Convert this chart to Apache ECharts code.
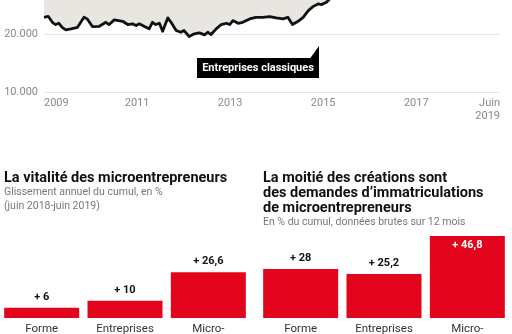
<!DOCTYPE html>
<html><head><meta charset="utf-8">
<script src="https://cdn.jsdelivr.net/npm/echarts@6/dist/echarts.min.js"></script>
<style>html,body{margin:0;padding:0;background:#fff}#c{width:512px;height:334px}</style>
</head><body><div id="c"></div>
<script>
// Line chart: Entreprises classiques (decimal years)
const dates = [2009.00,2009.09,2009.18,2009.25,2009.32,2009.39,2009.47,2009.58,2009.72,2009.86,2009.93,
  2010.04,2010.19,2010.33,2010.40,2010.51,2010.69,2010.80,2010.90,2010.98,
  2011.05,2011.16,2011.26,2011.33,2011.40,2011.48,2011.55,2011.66,2011.73,2011.84,2011.94,
  2012.01,2012.12,2012.23,2012.34,2012.45,2012.52,2012.59,2012.70,2012.81,2012.92,2012.99,
  2013.06,2013.17,2013.27,2013.42,2013.55,2013.70,2013.85,2013.99,
  2014.14,2014.24,2014.34,2014.46,2014.57,2014.68,2014.78,2014.89,2014.96,
  2015.07,2015.14,2015.25];
const classiques = [22850,23020,21990,21600,21820,21130,20690,20860,21130,22850,22570,
  21250,21300,21990,21600,22400,22160,21600,21720,21420,
  21720,21250,20860,21990,21600,21820,20450,22740,21990,20570,20280,
  20570,19540,20000,20170,19830,20280,19880,20860,21600,21820,21600,
  22280,21820,21990,22570,22850,22850,22970,22750,
  22570,22850,21600,22160,22850,24000,24680,25150,25030,
  25430,26000,26700];
const startYear = 2009;
const yMin = 10000, yMax = 30000, yStep = 10000;
const xMax = 9.8; // offset years shown up to "Juin 2019" label
const lastLabel = 'Juin\n2019';

// Bar charts
const barCats = ['Forme', 'Entreprises', 'Micro-'];
const vitalite = [6, 10, 26.6];
const creations = [28, 25.2, 46.8];

const FONT = 'Roboto';
const RED = '#e3051b';
const fmtThousands = v => String(v).replace(/\B(?=(\d{3})+(?!\d))/g, '.');
const fmtPct = v => '+ ' + String(v).replace('.', ',');

const chart = echarts.init(document.getElementById('c'), null, {renderer: 'canvas'});
chart.setOption({
  animation: false,
  textStyle: {fontFamily: FONT},
  grid: [
    {left: 44, right: 12, top: -24.3, bottom: 242, containLabel: false, outerBoundsMode: 'none'},
    {left: 0, width: 250, top: 232, bottom: 16, outerBoundsMode: 'none'},
    {left: 259, width: 250, top: 230.5, bottom: 16, outerBoundsMode: 'none'}
  ],
  xAxis: [
    {gridIndex: 0, type: 'value', min: 0, max: xMax, interval: 2,
      axisLine: {show: false}, axisTick: {show: false}, splitLine: {show: false},
      axisLabel: {color: '#8a8a8a', fontSize: 11, fontFamily: FONT, margin: 5,
        alignMinLabel: 'left', alignMaxLabel: 'right', lineHeight: 13,
        formatter: v => v > 9 ? lastLabel : String(startYear + v)}},
    {gridIndex: 1, type: 'category', data: barCats,
      axisLine: {show: false}, axisTick: {show: false},
      axisLabel: {color: '#333', fontSize: 11.5, fontFamily: FONT, margin: 5}},
    {gridIndex: 2, type: 'category', data: barCats,
      axisLine: {show: false}, axisTick: {show: false},
      axisLabel: {color: '#333', fontSize: 11.5, fontFamily: FONT, margin: 5}}
  ],
  yAxis: [
    {gridIndex: 0, type: 'value', min: yMin, max: yMax, interval: yStep,
      axisLine: {show: false}, axisTick: {show: false},
      splitLine: {lineStyle: {color: '#e4e4e4', width: 1}},
      axisLabel: {color: '#8a8a8a', fontSize: 11, fontFamily: FONT, margin: 6, formatter: fmtThousands}},
    {gridIndex: 1, type: 'value', min: 0, max: 50, show: false},
    {gridIndex: 2, type: 'value', min: 0, max: 50, show: false}
  ],
  series: [
    {type: 'line', xAxisIndex: 0, yAxisIndex: 0, showSymbol: false, silent: true,
      data: dates.map((d, i) => [+(d - startYear).toFixed(3), classiques[i]]),
      lineStyle: {color: '#111', width: 2.8, join: 'round'},
      areaStyle: {origin: 'end', color: '#e8e6e1', opacity: 1}},
    {type: 'bar', xAxisIndex: 1, yAxisIndex: 1, data: vitalite, barWidth: 75,
      itemStyle: {color: RED},
      label: {show: true, position: 'top', distance: 5, color: '#111', fontWeight: 'bold',
        fontSize: 11, fontFamily: FONT, formatter: p => fmtPct(p.value)}},
    {type: 'bar', xAxisIndex: 2, yAxisIndex: 2, barWidth: 75,
      itemStyle: {color: RED},
      data: creations.map((v, i) => i === 2 ? {value: v, label: {position: 'insideTop', color: '#fff', distance: 4}} : v),
      label: {show: true, position: 'top', distance: 5, color: '#111', fontWeight: 'bold',
        fontSize: 11, fontFamily: FONT, formatter: p => fmtPct(p.value)}}
  ],
  graphic: [
    {type: 'line', shape: {x1: 307, y1: 0, x2: 307, y2: 5}, style: {stroke: '#444', lineWidth: 1}},
    {type: 'rect', shape: {x: 197, y: 58, width: 122, height: 20}, style: {fill: '#000'}},
    {type: 'polygon', shape: {points: [[310, 58.5], [319, 58.5], [319, 46]]}, style: {fill: '#000'}},
    {type: 'text', x: 258, y: 68, style: {text: 'Entreprises classiques', fill: '#fff', font: 'bold 11px ' + FONT, textAlign: 'center', textVerticalAlign: 'middle'}},
    {type: 'text', x: 4, y: 170.5, style: {text: 'La vitalité des microentrepreneurs', fill: '#111', font: 'bold 14.5px ' + FONT, lineHeight: 15}},
    {type: 'text', x: 4, y: 185, style: {text: 'Glissement annuel du cumul, en %\n(juin 2018-juin 2019)', fill: '#777', font: '10.5px ' + FONT, lineHeight: 14}},
    {type: 'text', x: 263, y: 170.5, style: {text: 'La moitié des créations sont\ndes demandes d’immatriculations\nde microentrepreneurs', fill: '#111', font: 'bold 14.5px ' + FONT, lineHeight: 15}},
    {type: 'text', x: 263, y: 215.5, style: {text: 'En % du cumul, données brutes sur 12 mois', fill: '#777', font: '10.5px ' + FONT, lineHeight: 14}}
  ]
});
</script>
</body></html>
